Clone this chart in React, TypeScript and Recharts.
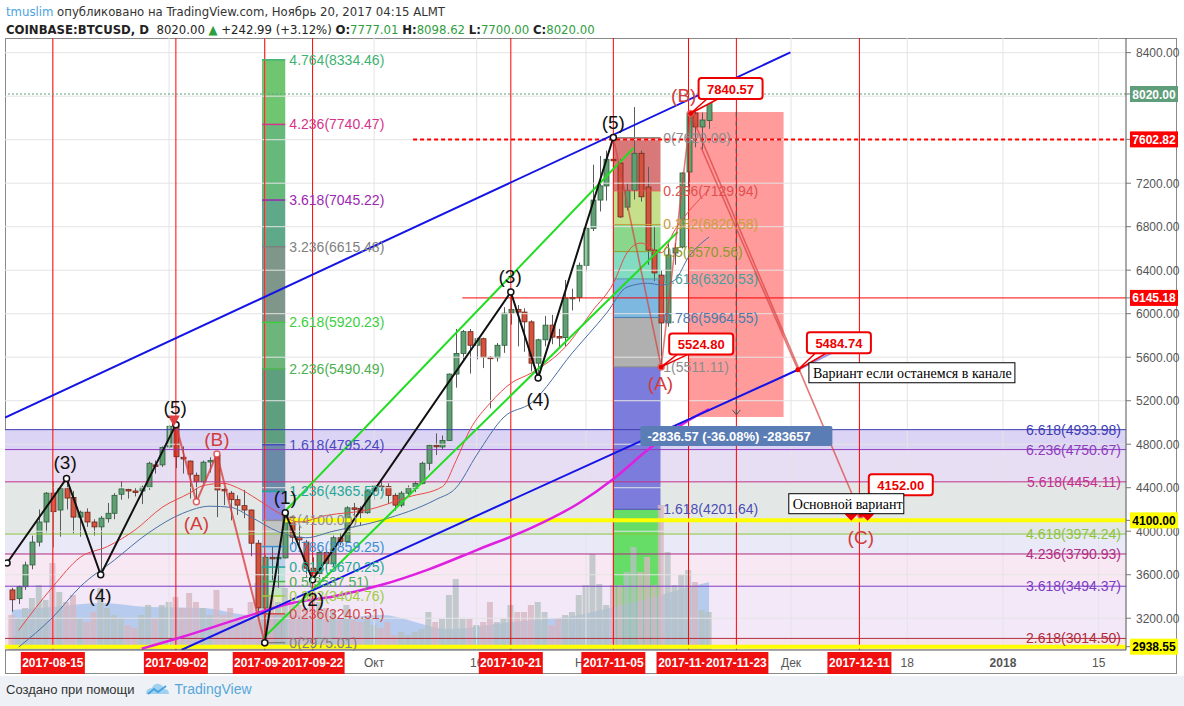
import React from 'react';
import {
  ComposedChart, Bar, Line, Area, XAxis, YAxis,
  ReferenceLine, ReferenceArea, ReferenceDot,
} from 'recharts';

const FONT = '"Liberation Sans", Arial, sans-serif';
const SERIF = '"Liberation Serif", "DejaVu Serif", serif';
const NARROW = '"Liberation Sans Narrow", "DejaVu Sans Condensed", "Liberation Sans", Arial, sans-serif';

// daily candles from 2017-08-09 (index 0) to 2017-11-19
const START = Date.UTC(2017, 7, 9);
const day = (s: string) => Math.round((Date.parse(s + 'T00:00:00Z') - START) / 86400000);

const opens = [
  3460, 3380, 3490, 3690, 3900, 4085, 4350, 4195, 4395, 4310,
  4130, 4175, 4085, 4040, 4115, 4165, 4340, 4385, 4370, 4370,
  4405, 4610, 4610, 4775, 4965, 4680, 4645, 4515, 4455, 4640,
  4700, 4385, 4350, 4290, 4235, 4195, 3890, 3295, 3760, 3755,
  3755, 4130, 3945, 3900, 3660, 3610, 3805, 3700, 3940, 3905,
  4215, 4210, 4170, 4370, 4415, 4410, 4330, 4240, 4350, 4395,
  4440, 4625, 4790, 4775, 4835, 5445, 5635, 5835, 5710, 5770,
  5600, 5595, 5710, 6005, 6040, 6015, 5925, 5545, 5760, 5895,
  5790, 5780, 6145, 6150, 6445, 6785, 7045, 7175, 7420, 7385,
  6980, 7135, 7475, 7165, 6585, 6355, 5915, 6558, 6613, 7303,
  7845, 7717, 7777.01,
];
const highs = [
  3480, 3500, 3720, 3960, 4200, 4360, 4460, 4400, 4485, 4370,
  4190, 4210, 4110, 4140, 4260, 4350, 4460, 4390, 4400, 4420,
  4640, 4650, 4780, 4975, 4980, 4780, 4650, 4540, 4650, 4680,
  4710, 4400, 4370, 4330, 4380, 4200, 3920, 3780, 3860, 3790,
  4170, 4140, 4050, 3920, 3760, 3830, 3820, 3960, 3980, 4230,
  4260, 4230, 4380, 4420, 4480, 4440, 4350, 4370, 4420, 4460,
  4640, 4800, 4900, 4880, 5450, 5860, 5850, 5860, 5780, 5780,
  5610, 5730, 6060, 6200, 6080, 6050, 5940, 5770, 5980, 5990,
  5860, 6310, 6230, 6470, 6800, 7370, 7450, 7500, 7620, 7420,
  7200, 7900, 7500, 7350, 6800, 6400, 6640, 6650, 7300, 7860,
  7860, 7850, 8098.62,
];
const lows = [
  3260, 3330, 3460, 3650, 3860, 3990, 3850, 3950, 4200, 3980,
  3950, 4040, 3960, 3600, 4080, 4110, 4290, 4300, 4320, 4250,
  4380, 4530, 4590, 4760, 4580, 4530, 4300, 4270, 4440, 4540,
  4130, 4240, 4100, 4150, 4120, 3770, 3200, 2975, 3550, 3480,
  3750, 3880, 3870, 3580, 3555, 3580, 3650, 3680, 3870, 3900,
  4140, 4050, 4160, 4290, 4370, 4250, 4190, 4220, 4320, 4360,
  4430, 4560, 4700, 4750, 4830, 5320, 5560, 5450, 5580, 5500,
  5130, 5560, 5640, 5900, 5700, 5650, 5470, 5410, 5700, 5720,
  5690, 5700, 6030, 6110, 6390, 6760, 6940, 7040, 7330, 6880,
  6950, 7050, 7030, 6450, 6300, 5511, 5880, 6450, 6600, 7100,
  7530, 7510, 7700,
];
const closes = [
  3370, 3490, 3690, 3900, 4085, 4350, 4180, 4395, 4305, 4130,
  4175, 4085, 4040, 4120, 4165, 4330, 4390, 4370, 4360, 4405,
  4625, 4600, 4770, 4965, 4685, 4665, 4525, 4455, 4635, 4650,
  4380, 4375, 4290, 4240, 4195, 3890, 3295, 3760, 3755, 3760,
  4165, 3945, 3920, 3660, 3600, 3805, 3705, 3940, 3905, 4215,
  4205, 4170, 4370, 4415, 4410, 4330, 4240, 4350, 4395, 4440,
  4625, 4790, 4780, 4835, 5445, 5635, 5835, 5710, 5770, 5600,
  5590, 5710, 6005, 6040, 6015, 5925, 5545, 5760, 5895, 5785,
  5780, 6145, 6150, 6445, 6785, 7045, 7175, 7420, 7410, 6890,
  7135, 7475, 7075, 6585, 6375, 5915, 6540, 6604, 7294, 7845,
  7717, 7781, 8020,
];
const volumes = [
  35, 32, 42, 52, 65, 50, 87, 58, 48, 55,
  32, 28, 38, 62, 42, 35, 32, 25, 22, 35,
  45, 32, 45, 48, 53, 42, 57, 48, 42, 35,
  60, 35, 42, 32, 35, 48, 67, 85, 55, 48,
  62, 48, 45, 42, 55, 48, 42, 40, 30, 45,
  30, 28, 32, 25, 22, 28, 15, 18, 15, 18,
  21, 38, 28, 31, 55, 71, 31, 31, 25, 28,
  48, 28, 31, 45, 38, 38, 45, 48, 38, 25,
  31, 35, 38, 55, 65, 96, 66, 45, 65, 65,
  78, 103, 78, 93, 65, 145, 98, 65, 75, 80,
  68, 40, 38,
];

// indicator lines: [day index, value]
const redAvg: [number, number][] = [
  [1, 3090], [6, 3490], [10, 3760], [14, 3860], [18, 4010], [22, 4220], [26, 4350], [28, 4420],
  [31, 4440], [33, 4400], [36, 4290], [39, 4170], [42, 4085], [46, 4145], [52, 4195], [58, 4315],
  [63, 4410], [65, 4650], [67, 4930], [70, 5180], [73, 5360], [76, 5455], [81, 5695], [85, 6030],
  [88, 6280], [90, 6560], [92, 6650], [95, 6560], [97, 6770], [102, 7140],
];
const blueAvg: [number, number][] = [
  [1, 2935], [6, 3210], [10, 3490], [15, 3735], [20, 3985], [25, 4165], [29, 4230], [32, 4220],
  [35, 4130], [39, 3995], [43, 3940], [47, 4000], [54, 4100], [62, 4290], [65, 4400], [68, 4700],
  [72, 5050], [76, 5180], [82, 5640], [87, 6005], [90, 6245], [93, 6280], [95, 6265], [97, 6310],
  [99, 6520], [102, 6705],
];
const pinkAvg: [number, number][] = [
  [19, 2920], [25, 3030], [34, 3210], [41, 3340], [47, 3400], [54, 3505], [61, 3650], [68, 3827],
  [76, 4030], [83, 4260], [88, 4480], [93, 4746], [98, 4980], [102, 5124],
];
const volAvg: [number, number][] = [
  [0, 40], [6, 43], [13, 47], [20, 43], [28, 42], [35, 35], [40, 35], [47, 32], [54, 35],
  [64, 21], [73, 28], [83, 35], [88, 43], [93, 51], [98, 61], [102, 68],
];

// drawings
const waveBlackA: [number, number][] = [[-0.7, 3708], [8, 4485], [13, 3600], [24, 4980]];
const waveBlackB: [number, number][] = [[37, 2975], [40, 4170], [44, 3555], [73, 6200], [77, 5410], [88, 7620]];
const waveRedA: [number, number][] = [[24, 4980], [27, 4270], [30, 4710], [37, 2975]];
const waveRedB: [number, number][] = [[88, 7620], [95, 5511.11], [99.3, 7840.57], [124.2, 4152]];
const waveRedC: [number, number][] = [[100.8, 7533], [115, 5484.74]];
const blueUpper: [number, number][] = [[-1, 5045], [113.9, 8402]];
const blueLower: [number, number][] = [[24.8, 2908], [115, 5484.74]];
const blueLowerExt: [number, number][] = [[115, 5484.74], [122.7, 5724]];
const greenUpper: [number, number][] = [[39.7, 4167], [90.95, 7523]];
const greenLower: [number, number][] = [[36.8, 3018], [97.4, 6751]];

const waveTags: [number, number, string, string][] = [
  [7.8, 4636, '(3)', 'k'], [12.9, 3413, '(4)', 'k'], [23.9, 5142, '(5)', 'k'], [30, 4848, '(B)', 'r'],
  [27, 4075, '(A)', 'r'], [40, 4314, '(1)', 'k'], [44, 3377, '(2)', 'k'], [72.9, 6346, '(3)', 'k'],
  [77, 5216, '(4)', 'k'], [88, 7763, '(5)', 'k'], [94.9, 5363, '(A)', 'r'], [98.3, 8010, '(B)', 'r'],
  [124.2, 3947, '(C)', 'r'],
];

const fibExt: [string, number, string][] = [
  ['6.618', 4933.98, '#3c3cb4'], ['6.236', 4750.67, '#8e3cc0'], ['5.618', 4454.11, '#c0308c'],
  ['4.618', 3974.24, '#8cc43c'], ['4.236', 3790.93, '#b02c80'], ['3.618', 3494.37, '#7c3cc4'],
  ['2.618', 3014.50, '#b02c3c'],
];
const fibExtFills = ['#dcd4f4', '#e8def4', '#e3e8e7', '#eae9f8', '#f7e8f3', '#f3e8f8', '#f6e3ea'];

const fibOne: [string, number, string][] = [
  ['0', 2975.01, '#808080'], ['0.236', 3240.51, '#d04848'], ['0.382', 3404.76, '#9ccc3c'],
  ['0.5', 3537.51, '#4caf50'], ['0.618', 3670.25, '#20a898'], ['0.786', 3859.25, '#3d8fd0'],
  ['1', 4100.0, '#909090'], ['1.236', 4365.5, '#26a69a'], ['1.618', 4795.24, '#4a4ac0'],
  ['2.236', 5490.49, '#4caf50'], ['2.618', 5920.23, '#3bd03b'], ['3.236', 6615.48, '#808080'],
  ['3.618', 7045.22, '#9c27b0'], ['4.236', 7740.47, '#d6338a'], ['4.764', 8334.46, '#3cb371'],
];
const fibOneFills = ['#e4a8a8', '#e0ecbc', '#c4e6c4', '#bce4dc', '#b8d2ec', '#c2c4c4', '#8c8ce2',
  '#6a8aa8', '#5e9f80', '#6cb67c', '#7f968a', '#5fa98a', '#66b97a', '#70c670'];

const fibTwo: [string, number, string][] = [
  ['0', 7620.0, '#8c8c8c'], ['0.236', 7129.94, '#e05050'], ['0.382', 6820.58, '#c8a03c'],
  ['0.5', 6570.56, '#8c9a2c'], ['0.618', 6320.53, '#4c9c9c'], ['0.786', 5964.55, '#4c7cac'],
  ['1', 5511.11, '#8c8c8c'], ['1.618', 4201.64, '#4c4cb4'],
];
const fibTwoFills = ['#d97878', '#c6df8a', '#8ad68a', '#82dcc2', '#7cb8e0', '#b0b0b0', '#7c7cdc', '#66dd66'];

const redDays: [string, string][] = [
  ['2017-08-15', '2017-08-15'], ['2017-09-02', '2017-09-02'], ['2017-09-15', '2017-09-15'],
  ['2017-09-22', '2017-09-22'], ['2017-10-21', '2017-10-21'], ['2017-11-05', '2017-11-05'],
  ['2017-11-16', '2017-11-16'], ['2017-11-23', '2017-11-23'], ['2017-12-11', '2017-12-11'],
];
const timeLabels: [string, string][] = [
  ['2017-10-01', 'Окт'], ['2017-10-16', '16'], ['2017-11-01', 'Ноя'], ['2017-12-01', 'Дек'],
  ['2017-12-18', '18'], ['2018-01-01', '2018'], ['2018-01-15', '15'],
];
const gridDays = ['2017-08-15', '2017-09-01', '2017-09-15', '2017-10-01', '2017-10-16', '2017-11-01',
  '2017-11-16', '2017-12-01', '2017-12-18', '2018-01-01', '2018-01-15'];
const priceGrid = [3200, 3600, 4000, 4400, 4800, 5200, 5600, 6000, 6400, 6800, 7200, 7600, 8000, 8400];
// 7600 and 8000 labels are hidden behind the price flags in the original
const priceTicks = [3200, 3600, 4000, 4400, 4800, 5200, 5600, 6000, 6400, 6800, 7200, 8400];
const priceFlags: [number, string, string][] = [
  [8020, '#5f9e7a', '#fff'], [7602.82, '#f00', '#fff'], [6145.18, '#f00', '#fff'],
  [4100, '#ffff00', '#000'], [2938.55, '#ffff00', '#000'],
];

const X0 = -1, X1 = 163, Y0 = 2908, Y1 = 8535;
const RED = '#d94040';

const rows = opens.map((o, i) => ({ i, o, h: highs[i], l: lows[i], c: closes[i], v: volumes[i] }));
const pts = (a: [number, number][]) => a.map(([i, v]) => ({ i, v }));

const Candle = (p: any) => {
  const { x, y, width, height, payload } = p;
  if (!payload) return null;
  const top = Math.min(y, y + height);
  const span = Math.abs(height);
  const k = span / (payload.h - payload.l || 1);
  const bTop = top + (payload.h - Math.max(payload.o, payload.c)) * k;
  const bH = Math.max(1.5, Math.abs(payload.c - payload.o) * k);
  const up = payload.c >= payload.o;
  const cx = Math.round(x + width / 2) + 0.5;
  return (
    <g>
      <line x1={cx} x2={cx} y1={top} y2={top + span} stroke="#5a5a5a" strokeWidth={1} />
      <rect x={cx - 2.5} y={bTop} width={5} height={bH}
        fill={up ? '#5f9f72' : '#d3533f'} stroke={up ? '#2c5e3a' : '#6e2115'} strokeWidth={0.8} />
    </g>
  );
};

const VolBar = (p: any) => {
  const { x, y, width, height, payload } = p;
  if (!payload) return null;
  const up = payload.c >= payload.o;
  const cx = x + width / 2;
  return <rect x={cx - 3} y={y} width={6} height={height} fill={up ? '#b5c0c2' : '#d6b6c2'} fillOpacity={0.8} />;
};

const PriceTick = (p: any) => {
  const { x, y, payload } = p;
  const v = payload.value;
  const flag = priceFlags.find((f) => Math.abs(f[0] - v) < 0.001);
  if (flag) {
    return (
      <g>
        <line x1={x} x2={x + 5} y1={y} y2={y} stroke="#777" />
        <rect x={x + 4} y={y - 8} width={48} height={16} fill={flag[1]} />
        <text x={x + 28} y={y + 4.5} textAnchor="middle" fill={flag[2]} fontSize={12} fontWeight="bold" fontFamily={FONT}>{v.toFixed(2)}</text>
      </g>
    );
  }
  return (
    <g>
      <line x1={x} x2={x + 5} y1={y} y2={y} stroke="#777" />
      <text x={x + 10} y={y + 4.5} fill="#555" fontSize={12} fontFamily={FONT}>{v.toFixed(2)}</text>
    </g>
  );
};

const DateTick = (p: any) => {
  const { x, y, payload } = p;
  const v = payload.value;
  const red = redDays.find((d) => day(d[0]) === v);
  if (red) {
    return (
      <g>
        <rect x={x - 32} y={y + 2} width={64} height={22} fill="#f01010" />
        <text x={x} y={y + 17} textAnchor="middle" fill="#fff" fontWeight="bold" fontSize={12} fontFamily={FONT}>{red[1]}</text>
      </g>
    );
  }
  const t = timeLabels.find((d) => day(d[0]) === v);
  if (!t) return null;
  return (
    <text x={x} y={y + 17} textAnchor="middle" fill="#555" fontSize={12} fontFamily={FONT}
      fontWeight={t[1] === '2018' ? 'bold' : 'normal'}>{t[1]}</text>
  );
};

const at = (key: string, x: number, y: number, draw: (cx: number, cy: number) => React.ReactNode) => (
  <ReferenceDot key={key} x={x} y={y} r={0} ifOverflow="visible"
    shape={(p: any) => <g>{draw(p.cx, p.cy)}</g>} />
);

const callout = (cx: number, cy: number, dx: number, dy: number, text: string) => (
  <g>
    <path d={`M${cx} ${cy} L${cx + dx - 22} ${cy + dy + 9} L${cx + dx - 10} ${cy + dy + 9} Z`} fill="#fff" stroke="#e00" strokeWidth={1.5} />
    <rect x={cx + dx - 32} y={cy + dy - 10.5} width={64} height={21} rx={3} fill="#fff" stroke="#e00" strokeWidth={2} />
    <text x={cx + dx} y={cy + dy + 5} textAnchor="middle" fill="#e00" fontWeight="bold" fontSize={13} fontFamily={FONT}>{text}</text>
    <circle cx={cx} cy={cy} r={2.5} fill="#e00" />
  </g>
);

const noteBox = (x: number, y: number, w: number, text: string) => (
  <g>
    <rect x={x} y={y} width={w} height={20} fill="#fff" stroke="#000" strokeWidth={1} />
    <text x={x + 4} y={y + 15} fill="#000" fontSize={14} fontFamily={SERIF}>{text}</text>
  </g>
);

const seg = (key: string, data: [number, number][], stroke: string, width: number, dot: any = false, opacity = 1) => (
  <Line key={key} data={pts(data)} dataKey="v" type="linear" stroke={stroke} strokeWidth={width}
    strokeOpacity={opacity} dot={dot} activeDot={false} isAnimationActive={false} legendType="none" />
);

export default function App() {
  const blackDot = { r: 3, fill: '#fff', stroke: '#111', strokeWidth: 1.5 };
  const redDot = { r: 3, fill: '#fff', stroke: RED, strokeWidth: 1.5 };
  const ticksX = [...timeLabels.map((d) => day(d[0])), ...redDays.map((d) => day(d[0]))];
  const ticksY = [...priceTicks, ...priceFlags.map((f) => f[0])];
  const ext = [...fibExt.map((f) => f[1]), Y0];

  return (
    <div style={{ position: 'absolute', left: 0, top: 0, width: 1184, height: 706, background: '#fff', overflow: 'hidden', fontFamily: FONT }}>
      <div style={{ position: 'absolute', left: 6, top: 4, fontSize: 13, color: '#333', fontFamily: NARROW, whiteSpace: 'nowrap' }}>
        <span style={{ color: '#4aa3df' }}>tmuslim</span> опубликовано на TradingView.com, Ноябрь 20, 2017 04:15 ALMT
      </div>
      <div style={{ position: 'absolute', left: 6, top: 22, fontSize: 13, color: '#222', fontFamily: NARROW, whiteSpace: 'nowrap' }}>
        <span style={{ fontWeight: 'bold' }}>COINBASE:BTCUSD, D</span>&nbsp; 8020.00 <span style={{ color: '#2e9e3e' }}>▲</span> +242.99 (+3.12%) <b>O:</b><span style={{ color: '#2e9e3e' }}>7777.01</span> <b>H:</b><span style={{ color: '#2e9e3e' }}>8098.62</span> <b>L:</b><span style={{ color: '#2e9e3e' }}>7700.00</span> <b>C:</b><span style={{ color: '#2e9e3e' }}>8020.00</span>
      </div>
      <div style={{ position: 'absolute', left: 5, top: 38, width: 1172, height: 636, border: '1px solid #8a8a8a', boxSizing: 'border-box' }} />
      <div style={{ position: 'absolute', left: 0, top: 676, width: 1184, height: 30, background: '#eef1f5' }} />
      <div style={{ position: 'absolute', left: 6, top: 680, fontSize: 13, color: '#333', display: 'flex', alignItems: 'center', whiteSpace: 'nowrap' }}>
        <span>Создано при помощи</span>
        <svg width={26} height={18} style={{ marginLeft: 9, marginRight: 5 }}>
          <path d="M2 14 Q2 8 8 8 Q10 3 15 4 Q19 5 20 9 Q25 9 25 14 Z" fill="#9fd2f0" />
          <path d="M4 14 L10 9 L14 12 L22 6" stroke="#4aa3df" strokeWidth={2} fill="none" />
        </svg>
        <span style={{ color: '#55a7da', fontSize: 14 }}>TradingView</span>
      </div>

      <div style={{ position: 'absolute', left: 0, top: 0 }}>
        <ComposedChart width={1184} height={676} data={rows} margin={{ top: 38, right: 0, bottom: 0, left: 5 }}>
          <XAxis dataKey="i" type="number" domain={[X0, X1]} allowDataOverflow ticks={ticksX} interval={0}
            tick={<DateTick />} tickSize={0} tickMargin={0} height={26} axisLine={{ stroke: '#555' }} />
          <XAxis xAxisId="vx" dataKey="i" type="number" domain={[X0, X1]} allowDataOverflow hide />
          <YAxis orientation="right" domain={[Y0, Y1]} allowDataOverflow ticks={ticksY} interval={0}
            tick={<PriceTick />} tickSize={0} tickMargin={0} width={58} axisLine={{ stroke: '#555' }} />
          <YAxis yAxisId="vol" domain={[0, 612]} allowDataOverflow hide />

          {/* big fib extension bands */}
          {ext.slice(0, -1).map((p, k) => (
            <ReferenceArea key={'eb' + k} x1={X0} x2={X1} y1={ext[k + 1]} y2={p} fill={fibExtFills[k]} fillOpacity={1} stroke="none" />
          ))}
          {priceGrid.map((p) => <ReferenceLine key={'gy' + p} y={p} stroke="#e4e4e4" />)}
          {gridDays.map((d) => <ReferenceLine key={'gx' + d} x={day(d)} stroke="#e4e4e4" />)}
          {fibExt.map(([r, p, c]) => (
            <ReferenceLine key={'el' + r} y={p} stroke={c} strokeWidth={1}
              label={{ value: `${r}(${p.toFixed(2)})`, position: 'insideRight', fill: c, fontSize: 14, fontFamily: FONT }} />
          ))}

          {/* fib retracement columns */}
          {fibOne.slice(1).map(([r, p], k) => (
            <ReferenceArea key={'f1' + r} x1={36.6} x2={40} y1={fibOne[k][1]} y2={p} fill={fibOneFills[k]} fillOpacity={1} stroke="none" />
          ))}
          {fibTwo.map(([r, p], k) => (
            <ReferenceArea key={'f2' + r} x1={88} x2={94.9} y1={k + 1 < fibTwo.length ? fibTwo[k + 1][1] : Y0} y2={p}
              fill={fibTwoFills[k]} fillOpacity={1} stroke="none" />
          ))}
          <ReferenceArea x1={99} x2={112.9} y1={5050} y2={7855} fill="#ff7474" fillOpacity={0.72} stroke="none" />

          <Area yAxisId="vol" xAxisId="vx" data={pts(volAvg)} dataKey="v" type="monotone" stroke="none"
            fill="#8fb8e8" fillOpacity={0.6} isAnimationActive={false} activeDot={false} />
          <Bar yAxisId="vol" xAxisId="vx" dataKey="v" barSize={6} shape={<VolBar />} isAnimationActive={false} />

          {redDays.map((d) => <ReferenceLine key={'rv' + d[0]} x={day(d[0])} stroke="#f00" strokeWidth={1} />)}
          <ReferenceLine y={8020} stroke="#5f9e7a" strokeDasharray="2 2" />
          <ReferenceLine segment={[{ x: 58.7, y: 7602.82 }, { x: X1, y: 7602.82 }]} stroke="#f00" strokeWidth={2} strokeDasharray="4 3" />
          <ReferenceLine segment={[{ x: 65.9, y: 6145.18 }, { x: X1, y: 6145.18 }]} stroke="#f00" strokeWidth={1} />
          <ReferenceLine segment={[{ x: 39.7, y: 4100 }, { x: X1, y: 4100 }]} stroke="#ffff00" strokeWidth={4} />
          <ReferenceLine y={2938.55} stroke="#ffff00" strokeWidth={4} />
          <ReferenceLine segment={[{ x: 106, y: 7855 }, { x: 106, y: 5050 }]} stroke="#555" strokeWidth={1.2} strokeDasharray="5 4" />

          {fibOne.map(([r, p, c]) => (
            <ReferenceLine key={'f1l' + r} segment={[{ x: 36.6, y: p }, { x: 40, y: p }]} stroke={c} strokeWidth={1.5} />
          ))}
          {fibTwo.map(([r, p, c]) => (
            <ReferenceLine key={'f2l' + r} segment={[{ x: 88, y: p }, { x: 94.9, y: p }]} stroke={c} strokeWidth={1} />
          ))}

          <Line data={pts(pinkAvg)} dataKey="v" type="monotone" stroke="#e020e0" strokeWidth={2.5} dot={false} activeDot={false} isAnimationActive={false} />
          <Line data={pts(blueAvg)} dataKey="v" type="monotone" stroke="#4a6fa5" strokeWidth={1} dot={false} activeDot={false} isAnimationActive={false} />
          <Line data={pts(redAvg)} dataKey="v" type="monotone" stroke="#e84a4a" strokeWidth={1} dot={false} activeDot={false} isAnimationActive={false} />

          <Bar dataKey={(d: any) => [d.l, d.h]} barSize={5} shape={<Candle />} isAnimationActive={false} />

          {seg('gu', greenUpper, '#22dd22', 2)}
          {seg('gl', greenLower, '#22dd22', 2)}
          {seg('ra', waveRedA, RED, 2, redDot, 0.8)}
          {seg('rb', waveRedB, RED, 1.6, redDot, 0.7)}
          {seg('rc', waveRedC, RED, 1.6, false, 0.7)}
          {seg('ba', waveBlackA, '#111', 2, blackDot)}
          {seg('bb', waveBlackB, '#111', 2, blackDot)}
          {seg('cu', blueUpper, '#1414e6', 2)}
          {seg('cl', blueLower, '#1414e6', 2)}
          {seg('ce', blueLowerExt, '#9a9af5', 2)}

          {fibOne.map(([r, p, c]) => at('f1t' + r, 40.6, p, (cx, cy) => (
            <text x={cx} y={cy + 5} fill={c} fontSize={14} fontFamily={FONT}>{`${r}(${p.toFixed(2)})`}</text>
          )))}
          {fibTwo.map(([r, p, c]) => at('f2t' + r, 95.3, p, (cx, cy) => (
            <text x={cx} y={cy + 5} fill={c} fontSize={14} fontFamily={FONT}>{`${r}(${p.toFixed(2)})`}</text>
          )))}

          {at('arrow', 106, 5070, (cx, cy) => (
            <path d={`M${cx - 4} ${cy - 5} L${cx} ${cy} L${cx + 4} ${cy - 5}`} stroke="#555" fill="none" />
          ))}
          {at('diff', 106, 4875, (cx, cy) => (
            <g>
              <rect x={cx - 96} y={cy - 10} width={192} height={20} rx={2} fill="#5a7db5" />
              <text x={cx - 89} y={cy + 5} fill="#fff" fontWeight="bold" fontSize={13} fontFamily={FONT}>-2836.57 (-36.08%) -283657</text>
            </g>
          ))}
          {at('m5', 23.7, 5010, (cx, cy) => (
            <path d={`M${cx - 6} ${cy - 6} L${cx + 6} ${cy - 6} L${cx} ${cy + 5} Z`} fill="#e04040" />
          ))}
          {[122.8, 125.2].map((d) => at('mc' + d, d, 4152, (cx, cy) => (
            <path d={`M${cx} ${cy + 6} L${cx - 6} ${cy} A3 3 0 0 1 ${cx} ${cy - 3} A3 3 0 0 1 ${cx + 6} ${cy} Z`} fill="#e00" />
          )))}

          {waveTags.map(([x, y, t, c], k) => at('wt' + k, x, y, (cx, cy) => (
            <text x={cx} y={cy + 7} textAnchor="middle" fill={c === 'k' ? '#111' : '#d43c3c'} fontSize={19} fontFamily={FONT}>{t}</text>
          )))}

          {at('c1', 99.3, 7840.57, (cx, cy) => callout(cx, cy, 40, -25, '7840.57'))}
          {at('c2', 95, 5511.11, (cx, cy) => callout(cx, cy, 40, -23, '5524.80'))}
          {at('c3', 115, 5484.74, (cx, cy) => callout(cx, cy, 41, -27, '5484.74'))}
          {at('c4', 124.2, 4152, (cx, cy) => callout(cx, cy, 40, -30, '4152.00'))}
          {at('n1', 115, 5484.74, (cx, cy) => noteBox(cx + 11, cy - 7, 206, 'Вариант если останемся в канале'))}
          {at('n2', 124.2, 4152, (cx, cy) => noteBox(cx - 72, cy - 21, 115, 'Основной вариант'))}
        </ComposedChart>
      </div>
    </div>
  );
}
